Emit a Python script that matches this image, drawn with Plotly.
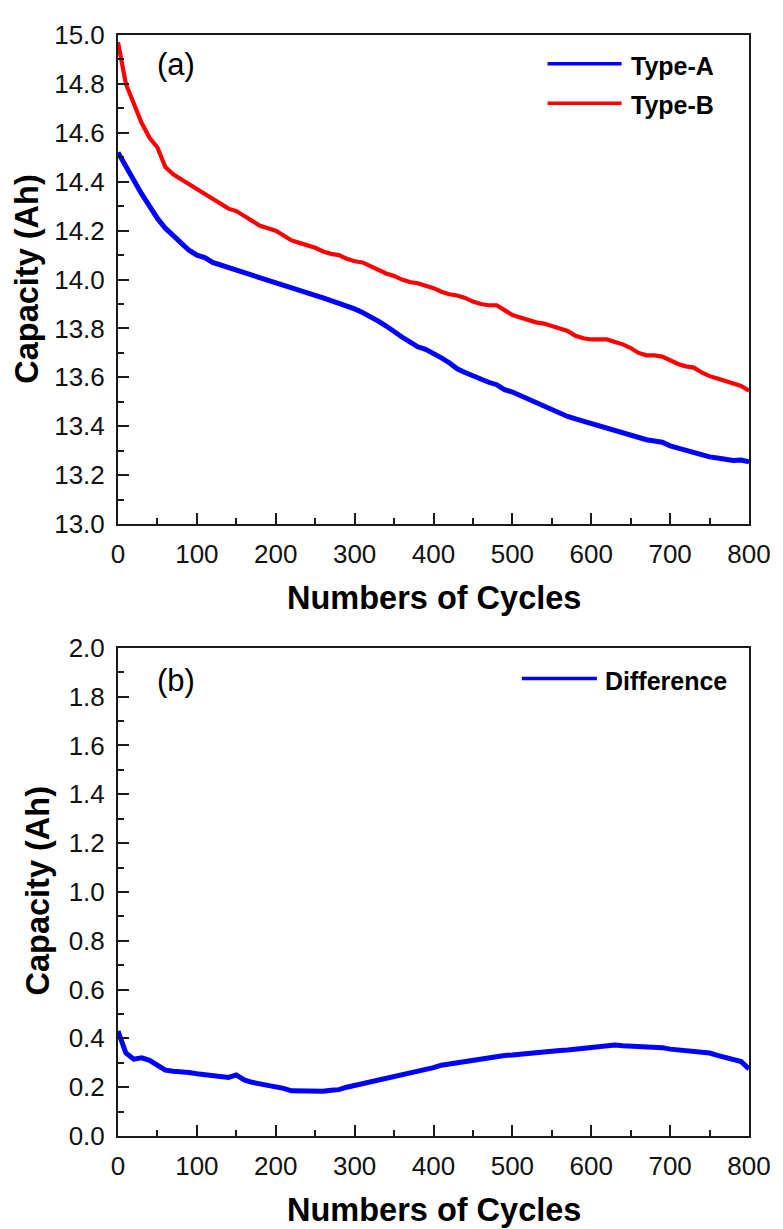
import plotly.graph_objects as go

# ---------------- data ----------------
cycles = list(range(0, 801, 10))

type_a = [14.52, 14.46, 14.41, 14.35, 14.30, 14.25, 14.21, 14.18, 14.15, 14.12,
          14.10, 14.09, 14.07, 14.06, 14.05, 14.04, 14.03, 14.02, 14.01, 13.995,
          13.99, 13.98, 13.965, 13.955, 13.945, 13.935, 13.925, 13.915, 13.90, 13.89,
          13.88, 13.865, 13.85, 13.83, 13.81, 13.785, 13.765, 13.745, 13.725, 13.715,
          13.70, 13.68, 13.66, 13.635, 13.62, 13.605, 13.595, 13.58, 13.57, 13.55,
          13.54, 13.525, 13.51, 13.495, 13.485, 13.465, 13.45, 13.44, 13.43, 13.42,
          13.41, 13.40, 13.39, 13.38, 13.37, 13.36, 13.35, 13.345, 13.34, 13.335,
          13.32, 13.31, 13.30, 13.29, 13.28, 13.275, 13.27, 13.263, 13.26, 13.262,
          13.255]

type_b = [14.97, 14.80, 14.72, 14.64, 14.58, 14.54, 14.46, 14.43, 14.41, 14.39,
          14.365, 14.35, 14.33, 14.31, 14.29, 14.28, 14.26, 14.24, 14.22, 14.21,
          14.20, 14.18, 14.16, 14.15, 14.14, 14.13, 14.115, 14.105, 14.10, 14.085,
          14.075, 14.07, 14.055, 14.04, 14.025, 14.015, 14.00, 13.99, 13.985, 13.975,
          13.965, 13.95, 13.94, 13.935, 13.925, 13.91, 13.90, 13.895, 13.895, 13.875,
          13.855, 13.845, 13.835, 13.825, 13.82, 13.81, 13.80, 13.79, 13.77, 13.76,
          13.755, 13.755, 13.755, 13.745, 13.735, 13.72, 13.70, 13.69, 13.69, 13.685,
          13.67, 13.655, 13.645, 13.64, 13.62, 13.605, 13.595, 13.585, 13.575, 13.565,
          13.545]

difference = [0.43, 0.34, 0.315, 0.32, 0.31, 0.29, 0.27, 0.265, 0.265, 0.26,
              0.255, 0.25, 0.245, 0.24, 0.24, 0.25, 0.23, 0.22, 0.215, 0.205,
              0.20, 0.195, 0.185, 0.185, 0.18, 0.182, 0.183, 0.187, 0.19, 0.20,
              0.207, 0.215, 0.222, 0.23, 0.235, 0.245, 0.252, 0.26, 0.265, 0.275,
              0.28, 0.29, 0.295, 0.305, 0.31, 0.315, 0.32, 0.325, 0.327, 0.33,
              0.332, 0.335, 0.34, 0.343, 0.348, 0.352, 0.35, 0.352, 0.355, 0.36,
              0.365, 0.368, 0.372, 0.373, 0.37, 0.368, 0.366, 0.365, 0.366, 0.362,
              0.356, 0.352, 0.35, 0.347, 0.345, 0.34, 0.33, 0.323, 0.315, 0.305,
              0.275]

series_names = ["Type-A", "Type-B", "Difference"]
panel_labels = ["(a)", "(b)"]
x_title = "Numbers of Cycles"
y_title = "Capacity (Ah)"
x_ticks = [0, 100, 200, 300, 400, 500, 600, 700, 800]

BLUE = "#0000FF"
RED = "#FF0000"
AX = "#1a1a1a"
FONT = "Liberation Sans, Arial, sans-serif"

# the page body has an 8px margin: the figure starts at (8, 8) in the window
OFF = 8
W, H = 783 - OFF, 1229 - OFF
# target plot area in window pixels: x 118..757, top y 24..518, bottom y 643..1136
ML = 118 - OFF
MT = 24 - OFF
MR = W - (757 - OFF)
MB = H - (1136 - OFF)
PW = W - ML - MR
PH = H - MT - MB


def px_x(p):
    return (p - OFF - ML) / PW


def px_y(p):
    return (H - MB - (p - OFF)) / PH


fig = go.Figure()
fig.add_trace(go.Scatter(x=cycles, y=type_a, mode="lines", name=series_names[0],
                         line=dict(color=BLUE, width=5), xaxis="x", yaxis="y",
                         showlegend=False))
fig.add_trace(go.Scatter(x=cycles, y=type_b, mode="lines", name=series_names[1],
                         line=dict(color=RED, width=4.2), xaxis="x", yaxis="y",
                         showlegend=False))
fig.add_trace(go.Scatter(x=cycles, y=difference, mode="lines", name=series_names[2],
                         line=dict(color=BLUE, width=5), xaxis="x2", yaxis="y2",
                         showlegend=False))

tickfont = dict(family=FONT, size=26, color="#111")

common_x = dict(range=[0, 800], tickvals=x_ticks, ticks="inside", ticklen=11,
                tickwidth=1.5, tickcolor=AX, showline=True, linewidth=2,
                linecolor=AX, mirror=True, showgrid=False, zeroline=False,
                tickfont=tickfont, ticklabelstandoff=6,
                minor=dict(dtick=50, ticks="inside", ticklen=6, tickwidth=1.5,
                           tickcolor=AX, showgrid=False))
common_y = dict(ticks="inside", ticklen=11, tickwidth=1.5, tickcolor=AX,
                showline=True, linewidth=2, linecolor=AX, mirror=True,
                showgrid=False, zeroline=False, tickfont=tickfont,
                tickformat=".1f", dtick=0.2, ticklabelstandoff=6,
                minor=dict(dtick=0.1, ticks="inside", ticklen=6, tickwidth=1.5,
                           tickcolor=AX, showgrid=False))

top_dom = [px_y(518), 1.0]
bot_dom = [0.0, px_y(643)]

fig.update_layout(
    width=W, height=H,
    margin=dict(l=ML, r=MR, t=MT, b=MB),
    paper_bgcolor="white", plot_bgcolor="white",
    showlegend=False,
    xaxis=dict(common_x, anchor="y", domain=[0, 1]),
    yaxis=dict(common_y, anchor="x", domain=top_dom, range=[13.0, 15.0], tick0=13.0),
    xaxis2=dict(common_x, anchor="y2", domain=[0, 1]),
    yaxis2=dict(common_y, anchor="x2", domain=bot_dom, range=[0.0, 2.0], tick0=0.0),
    # short mirrored ticks on top / right edges
    xaxis3=dict(overlaying="x", side="top", anchor="y", range=[0, 800], dtick=50,
                ticks="inside", ticklen=3, tickwidth=1.2, tickcolor=AX,
                showticklabels=False, showline=False, showgrid=False, zeroline=False),
    yaxis3=dict(overlaying="y", side="right", anchor="x", range=[13.0, 15.0], dtick=0.1,
                ticks="inside", ticklen=4, tickwidth=1.2, tickcolor=AX,
                showticklabels=False, showline=False, showgrid=False, zeroline=False),
    xaxis4=dict(overlaying="x2", side="top", anchor="y2", range=[0, 800], dtick=50,
                ticks="inside", ticklen=3, tickwidth=1.2, tickcolor=AX,
                showticklabels=False, showline=False, showgrid=False, zeroline=False),
    yaxis4=dict(overlaying="y2", side="right", anchor="x2", range=[0.0, 2.0], dtick=0.1,
                ticks="inside", ticklen=4, tickwidth=1.2, tickcolor=AX,
                showticklabels=False, showline=False, showgrid=False, zeroline=False),
)

ann = []
title_font = dict(family=FONT, size=32.5, color="#000")
# x axis titles
ann.append(dict(text="<b>%s</b>" % x_title, x=0.5, y=px_y(593), xref="paper", yref="paper",
                xanchor="center", yanchor="middle", showarrow=False, font=title_font))
ann.append(dict(text="<b>%s</b>" % x_title, x=0.5, y=px_y(1211), xref="paper", yref="paper",
                xanchor="center", yanchor="middle", showarrow=False, font=title_font))
# y axis titles
ann.append(dict(text="<b>%s</b>" % y_title, x=px_x(25), y=px_y(271), xref="paper", yref="paper",
                xanchor="center", yanchor="middle", textangle=-90, showarrow=False, font=title_font))
ann.append(dict(text="<b>%s</b>" % y_title, x=px_x(37), y=px_y(889), xref="paper", yref="paper",
                xanchor="center", yanchor="middle", textangle=-90, showarrow=False, font=title_font))
# panel labels
lab_font = dict(family=FONT, size=31, color="#000")
ann.append(dict(text=panel_labels[0], x=px_x(177), y=px_y(54), xref="paper", yref="paper",
                xanchor="center", yanchor="middle", showarrow=False, font=lab_font))
ann.append(dict(text=panel_labels[1], x=px_x(177), y=px_y(676), xref="paper", yref="paper",
                xanchor="center", yanchor="middle", showarrow=False, font=lab_font))

# legends (drawn as line samples + bold labels)
leg_font = dict(family=FONT, size=25, color="#000")
legend_items = [(series_names[0], BLUE, 553, 628, 53, 635),
                (series_names[1], RED, 553, 628, 93, 635),
                (series_names[2], BLUE, 527, 603, 674, 609)]
shapes = []
for name, col, x0, x1, yy, tx in legend_items:
    shapes.append(dict(type="line", xref="paper", yref="paper",
                       x0=px_x(x0), x1=px_x(x1), y0=px_y(yy), y1=px_y(yy),
                       line=dict(color=col, width=3.5)))
    ann.append(dict(text="<b>%s</b>" % name, x=px_x(tx), y=px_y(yy + 2), xref="paper",
                    yref="paper", xanchor="left", yanchor="middle", showarrow=False,
                    font=leg_font))

fig.update_layout(annotations=ann, shapes=shapes)

fig.write_html("out.html")
